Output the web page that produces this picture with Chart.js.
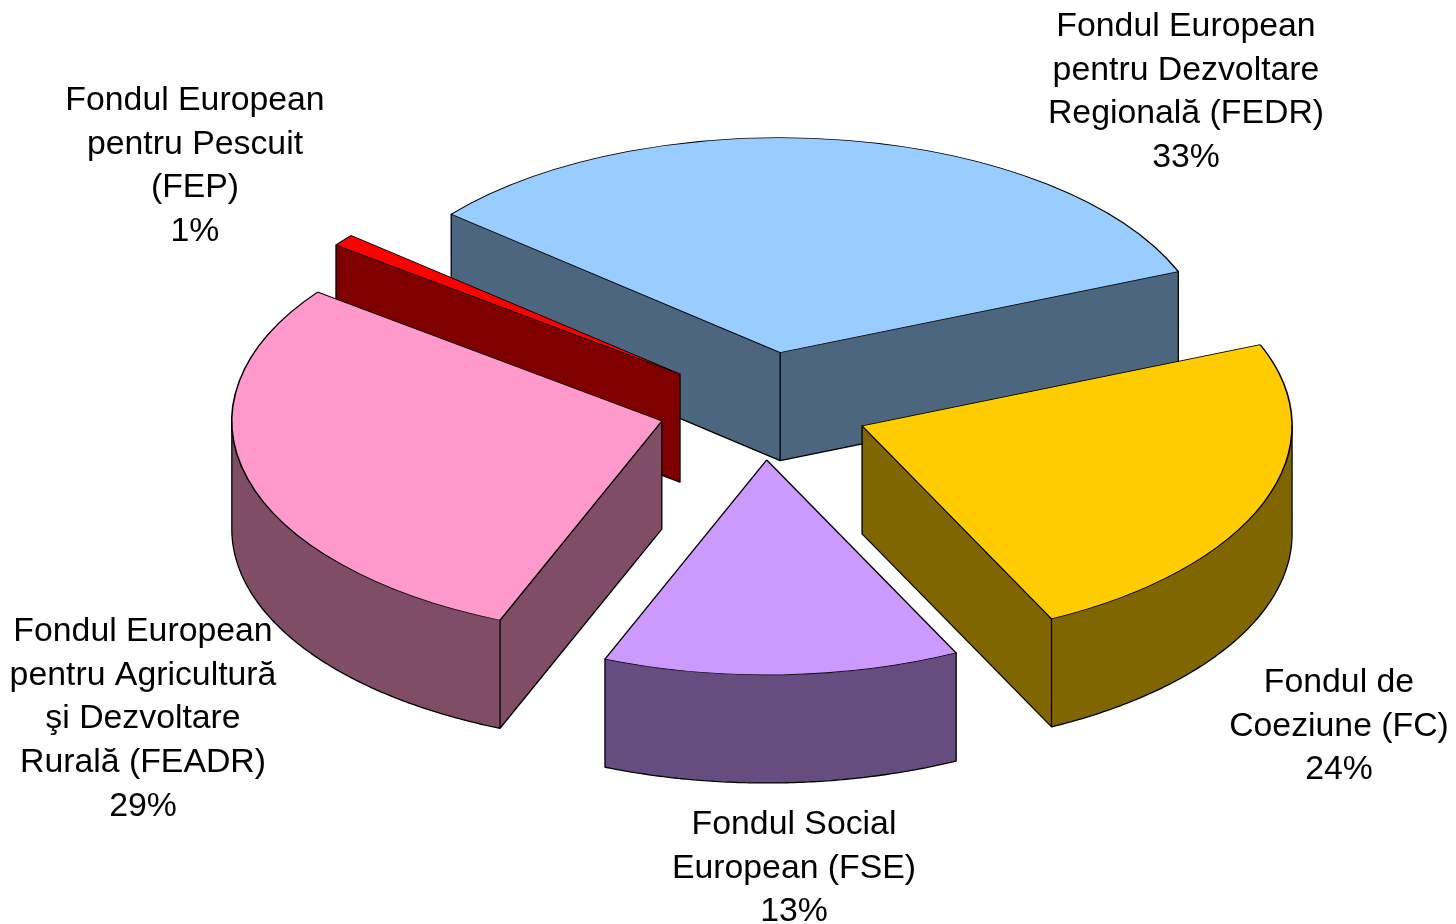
<!DOCTYPE html>
<html>
<head>
<meta charset="utf-8">
<title>Fonduri europene</title>
<script src="https://cdn.jsdelivr.net/npm/chart.js@4/dist/chart.umd.min.js"></script>
<style>
    html, body { margin: 0; padding: 0; background: #fff; overflow: hidden; }
    canvas { display: block; }
</style>
</head>
<body>
<canvas id="pieChart" width="1456" height="924"></canvas>
<script>
// ==========================
// DATA
// ==========================
const categories = [
    ["Fondul European", "pentru Dezvoltare", "Regională (FEDR)"],
    ["Fondul de", "Coeziune (FC)"],
    ["Fondul Social", "European (FSE)"],
    ["Fondul European", "pentru Agricultură", "şi Dezvoltare", "Rurală (FEADR)"],
    ["Fondul European", "pentru Pescuit", "(FEP)"]
];
const shares = [32.7, 23.9, 13.4, 29.1, 0.9];

// ==========================
// STYLE
// ==========================
const topColors = ["#99CCFF", "#FFCC00", "#CC99FF", "#FF99CC", "#FF0000"];
const wallColors = ["#4D6680", "#806600", "#664D80", "#804D66", "#800000"];

// centre x and first baseline of each label
const labelAnchors = [
    [1186, 36],
    [1339, 692],
    [794, 834],
    [143, 641],
    [195, 110]
];
const labelFont = "33.8px 'Liberation Sans', Arial, sans-serif";
const lineGap = 43.7;

const tilt = 0.5;      // ellipse height / width
const depth = 108;     // height of the walls
const explode = [110, 106, 106, 105, 106];   // distance each slice is pulled out

// ==========================
// 3D PIE PLUGIN
// ==========================
function sliceOffset(arc, i) {
    const mid = (arc.startAngle + arc.endAngle) / 2;
    return {
        x: Math.cos(mid) * explode[i],
        y: Math.sin(mid) * explode[i] * tilt
    };
}

// outline of the slice on screen: apex, then the rim going clockwise
function sliceOutline(arc, off) {
    const full = Math.PI * 2;
    const angles = [];
    for (let a = arc.startAngle; a < arc.endAngle; a += Math.PI / 360) {
        angles.push({ a, corner: a === arc.startAngle });
    }
    angles.push({ a: arc.endAngle, corner: true });

    // the left and right extremes of the ellipse are wall edges too
    for (let k = -2; k <= 2; k++) {
        const a = k * Math.PI;
        if (a > arc.startAngle && a < arc.endAngle) {
            angles.push({ a, corner: true });
        }
    }
    angles.sort((p, q) => p.a - q.a);

    const points = angles.map(p => ({
        x: arc.x + off.x + Math.cos(p.a) * arc.outerRadius,
        y: arc.y + off.y + Math.sin(p.a) * arc.outerRadius * tilt,
        corner: p.corner
    }));
    points.unshift({ x: arc.x + off.x, y: arc.y + off.y, corner: true });
    return points;
}

function drawWalls(ctx, arc, off, color) {
    const points = sliceOutline(arc, off);
    const front = [];
    points.forEach((p, i) => {
        const q = points[(i + 1) % points.length];
        // clockwise outline: edges running left face the viewer
        if (q.x < p.x) front.push([p, q]);
    });

    ctx.save();
    ctx.fillStyle = color;
    ctx.beginPath();
    front.forEach(([p, q]) => {
        ctx.moveTo(p.x, p.y);
        ctx.lineTo(q.x, q.y);
        ctx.lineTo(q.x, q.y + depth);
        ctx.lineTo(p.x, p.y + depth);
        ctx.closePath();
    });
    ctx.fill();

    ctx.strokeStyle = "#000";
    ctx.lineWidth = 1.3;
    ctx.lineCap = "round";
    ctx.beginPath();
    front.forEach(([p, q]) => {
        ctx.moveTo(p.x, p.y + depth);
        ctx.lineTo(q.x, q.y + depth);
        [p, q].forEach(c => {
            if (c.corner) {
                ctx.moveTo(c.x, c.y);
                ctx.lineTo(c.x, c.y + depth);
            }
        });
    });
    ctx.stroke();
    ctx.restore();
}

function drawTop(ctx, arc, off) {
    ctx.save();
    ctx.translate(arc.x + off.x, arc.y + off.y);
    ctx.scale(1, tilt);
    ctx.translate(-arc.x, -arc.y);
    arc.draw(ctx);
    ctx.restore();
}

const pie3d = {
    id: "pie3d",
    beforeDatasetDraw(chart, args) {
        const ctx = chart.ctx;
        const arcs = args.meta.data.map((arc, i) => ({ arc, i, off: sliceOffset(arc, i) }));
        // back slices first
        arcs.sort((a, b) => a.off.y - b.off.y);
        arcs.forEach(({ arc, i, off }) => {
            drawWalls(ctx, arc, off, wallColors[i]);
            drawTop(ctx, arc, off);
        });
        return false;
    },
    afterDraw(chart) {
        const ctx = chart.ctx;
        ctx.save();
        ctx.font = labelFont;
        ctx.fillStyle = "#000";
        ctx.textAlign = "center";
        ctx.textBaseline = "alphabetic";
        categories.forEach((lines, i) => {
            const [x, y] = labelAnchors[i];
            const rows = lines.concat(Math.round(shares[i]) + "%");
            rows.forEach((row, r) => ctx.fillText(row, x, y + r * lineGap));
        });
        ctx.restore();
    }
};

// ==========================
// CHART
// ==========================
new Chart(document.getElementById("pieChart"), {
    type: "pie",
    data: {
        labels: categories.map(c => c.join(" ")),
        datasets: [{
            data: shares,
            backgroundColor: topColors,
            borderColor: "#000",
            borderWidth: 1.6
        }]
    },
    options: {
        responsive: false,
        animation: false,
        rotation: -49.9,
        radius: 430,
        layout: { padding: { left: 70, bottom: 110 } },
        plugins: {
            legend: { display: false },
            tooltip: { enabled: false }
        }
    },
    plugins: [pie3d]
});
</script>
</body>
</html>
